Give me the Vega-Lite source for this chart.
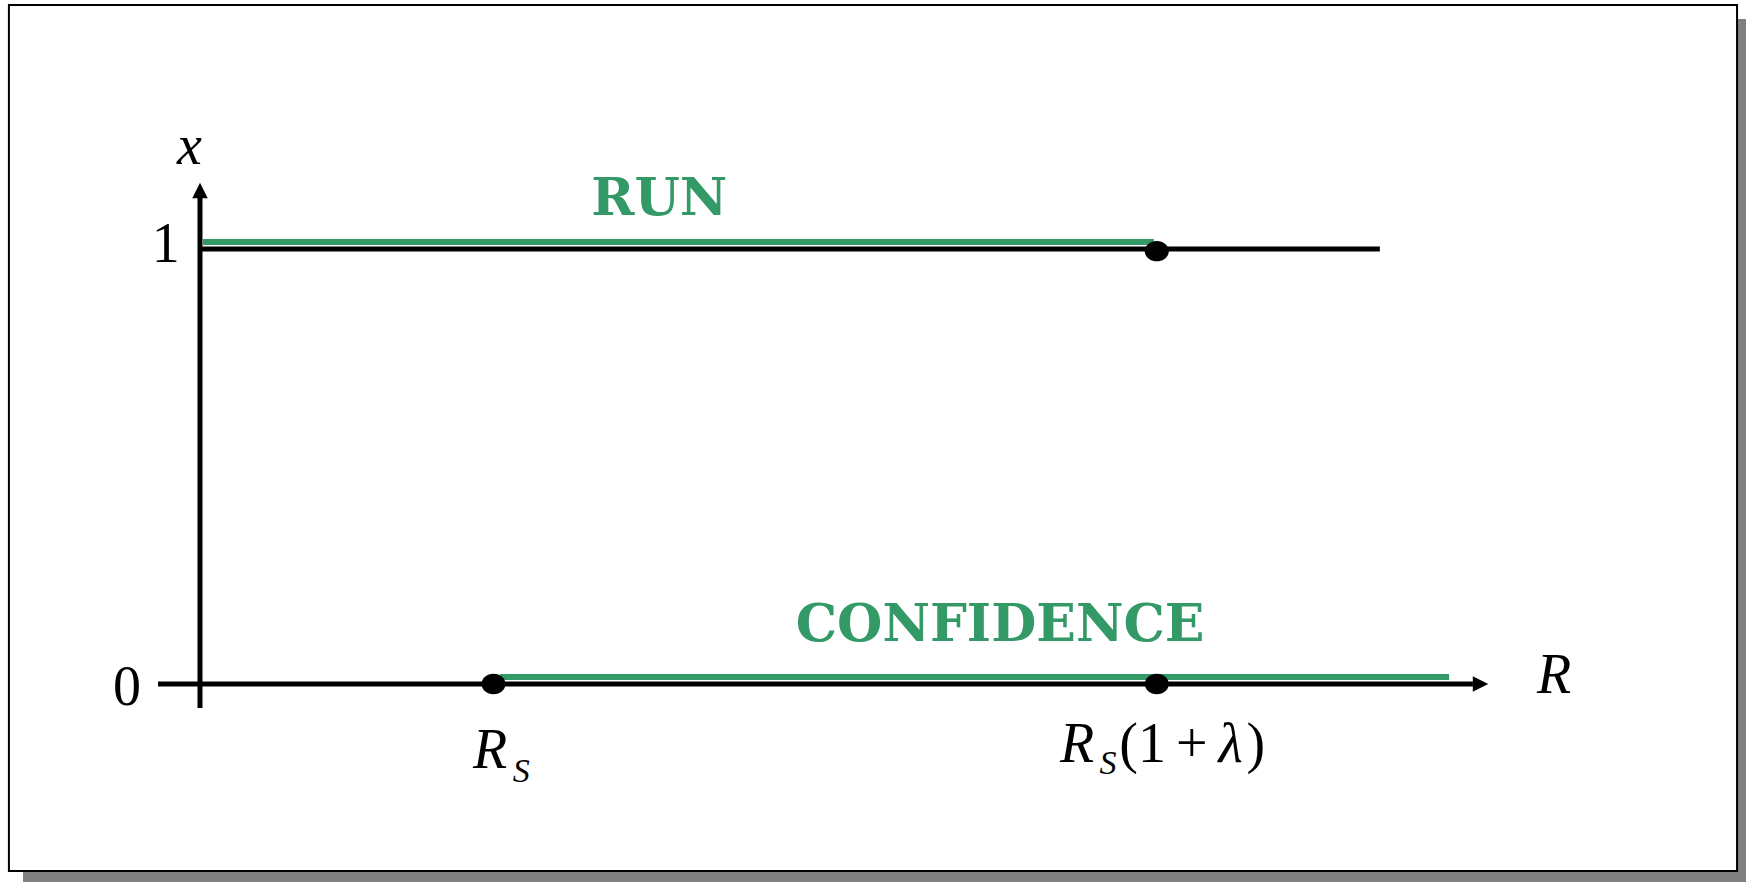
{
  "$schema": "https://vega.github.io/schema/vega-lite/v6.json",
  "width": 1746,
  "height": 882,
  "padding": 0,
  "autosize": {"type": "fit", "contains": "padding"},
  "background": "white",
  "config": {"view": {"stroke": null}},
  "datasets": {
    "shadow": [{"x": -0.603, "x2": 5.32, "y": 1.529, "y2": -0.48}],
    "frame": [{"x": -0.651, "x2": 5.237, "y": 1.561, "y2": -0.43}],
    "black_lines": [
      {"name": "R axis", "x": -0.143, "x2": 4.337, "y": 0, "y2": 0},
      {"name": "x axis", "x": 0, "x2": 0, "y": -0.055, "y2": 1.117},
      {"name": "x = 1", "x": 0, "x2": 4.02, "y": 1, "y2": 1}
    ],
    "regimes": [
      {"regime": "RUN", "x": 0.01, "x2": 3.25, "y": 1, "y2": 1},
      {"regime": "CONFIDENCE", "x": 1.022, "x2": 4.256, "y": 0, "y2": 0}
    ],
    "arrows": [
      {"dir": "up", "x": 0, "y": 1.1345},
      {"dir": "right", "x": 4.363, "y": 0}
    ],
    "dots": [
      {"label": "R_S", "x": 1, "y": 0},
      {"label": "R_S(1+lambda)", "x": 3.26, "y": 0},
      {"label": "R_S(1+lambda) at x=1", "x": 3.26, "y": 0.995}
    ],
    "regime_labels": [
      {"text": "RUN", "x": 1.565, "y": 1.078},
      {"text": "CONFIDENCE", "x": 2.726, "y": 0.099}
    ],
    "math_italic": [
      {"text": "x", "x": -0.078, "y": 1.195},
      {"text": "R", "x": 4.555, "y": -0.021},
      {"text": "R", "x": 0.93, "y": -0.193},
      {"text": "R", "x": 2.93, "y": -0.179},
      {"text": "λ", "x": 3.47, "y": -0.179}
    ],
    "math_sub": [
      {"text": "S", "x": 1.066, "y": -0.225},
      {"text": "S", "x": 3.065, "y": -0.207}
    ],
    "math_upright": [
      {"text": "1", "x": -0.164, "y": 0.97},
      {"text": "0", "x": -0.296, "y": -0.048},
      {"text": "(1", "x": 3.132, "y": -0.179},
      {"text": "+", "x": 3.325, "y": -0.179},
      {"text": ")", "x": 3.566, "y": -0.179}
    ]
  },
  "encoding": {
    "x": {"field": "x", "type": "quantitative", "axis": null, "scale": {"domain": [-0.6814, 5.2675], "nice": false, "zero": false}},
    "y": {"field": "y", "type": "quantitative", "axis": null, "scale": {"domain": [-0.4552, 1.5724], "nice": false, "zero": false}}
  },
  "layer": [
    {
      "data": {"name": "shadow"},
      "mark": {"type": "rect", "fill": "#808080", "clip": true},
      "encoding": {"x2": {"field": "x2"}, "y2": {"field": "y2"}}
    },
    {
      "data": {"name": "frame"},
      "mark": {"type": "rect", "fill": "white", "stroke": "black", "strokeWidth": 2},
      "encoding": {"x2": {"field": "x2"}, "y2": {"field": "y2"}}
    },
    {
      "data": {"name": "regimes"},
      "mark": {"type": "rule", "color": "#339966", "strokeWidth": 6, "yOffset": -7, "y2Offset": -7},
      "encoding": {"x2": {"field": "x2"}, "y2": {"field": "y2"}}
    },
    {
      "data": {"name": "black_lines"},
      "mark": {"type": "rule", "color": "black", "strokeWidth": 5},
      "encoding": {"x2": {"field": "x2"}, "y2": {"field": "y2"}}
    },
    {
      "data": {"name": "arrows"},
      "mark": {"type": "point", "filled": true, "color": "black", "opacity": 1, "size": 240, "strokeWidth": 0},
      "encoding": {
        "shape": {"field": "dir", "type": "nominal", "legend": null, "scale": {"domain": ["up", "right"], "range": ["M0,-1L1,1L-1,1Z", "M1,0L-1,-1L-1,1Z"]}}
      }
    },
    {
      "data": {"name": "dots"},
      "mark": {"type": "point", "filled": true, "color": "black", "opacity": 1, "size": 576, "strokeWidth": 0, "shape": "M-1,0A1,0.85,0,1,0,1,0A1,0.85,0,1,0,-1,0Z"},
      "encoding": {}
    },
    {
      "data": {"name": "regime_labels"},
      "mark": {"type": "text", "font": "DejaVu Serif", "fontWeight": "bold", "fontSize": 52, "color": "#339966", "align": "center", "baseline": "alphabetic"},
      "encoding": {"text": {"field": "text"}}
    },
    {
      "data": {"name": "math_italic"},
      "mark": {"type": "text", "font": "Liberation Serif", "fontStyle": "italic", "fontSize": 56, "color": "black", "align": "left", "baseline": "alphabetic"},
      "encoding": {"text": {"field": "text"}}
    },
    {
      "data": {"name": "math_sub"},
      "mark": {"type": "text", "font": "Liberation Serif", "fontStyle": "italic", "fontSize": 34, "color": "black", "align": "left", "baseline": "alphabetic"},
      "encoding": {"text": {"field": "text"}}
    },
    {
      "data": {"name": "math_upright"},
      "mark": {"type": "text", "font": "Liberation Serif", "fontSize": 56, "color": "black", "align": "left", "baseline": "alphabetic"},
      "encoding": {"text": {"field": "text"}}
    }
  ]
}
